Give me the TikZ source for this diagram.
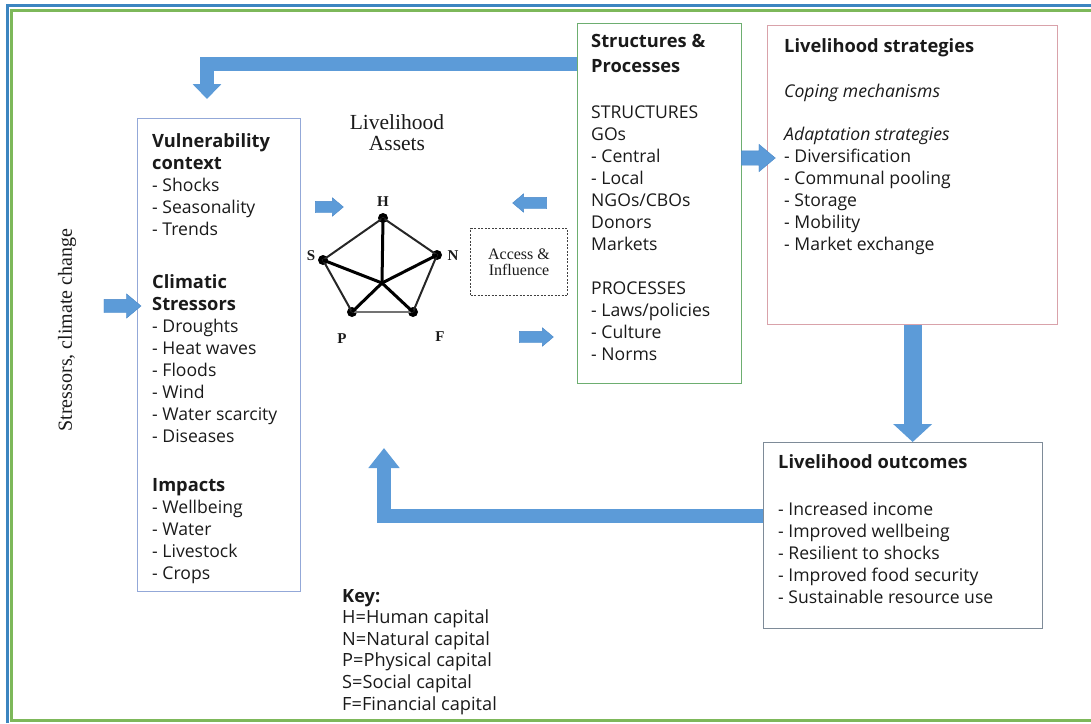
\documentclass[tikz,border=0pt]{standalone}
\usepackage{fontspec}
\setmainfont{Liberation Serif}
\setsansfont{Open Sans}
\usetikzlibrary{arrows.meta,shapes.arrows,calc}
\definecolor{frameblue}{HTML}{3C85C0}
\definecolor{framegreen}{HTML}{7DB85A}
\definecolor{vcblue}{HTML}{93A8D8}
\definecolor{spgreen}{HTML}{6DAE70}
\definecolor{lspink}{HTML}{D9A2AA}
\definecolor{logray}{HTML}{7E8B98}
\definecolor{arrowblue}{HTML}{5C9BD8}
\definecolor{arrowedge}{HTML}{4A88C8}
\definecolor{txtc}{HTML}{1A1A1A}
\newcommand\hd[1]{{\fontsize{18.3}{22}\selectfont\bfseries #1}}
\tikzset{
  box/.style={draw, line width=1.3pt, anchor=north west, inner sep=0},
  tx/.style={anchor=base west, align=left, inner sep=0, text=txtc,
    font=\sffamily\fontsize{17.6}{22}\selectfont},
  keytx/.style={tx, font=\sffamily\fontsize{18.2}{21.6}\selectfont},
  serif/.style={inner sep=0, text=txtc, font=\rmfamily\fontsize{21.5}{21}\selectfont},
  vlabel/.style={inner sep=0, text=txtc, font=\rmfamily\bfseries\fontsize{15}{18}\selectfont},
  dot/.style={circle, fill=black, inner sep=0, minimum size=10},
  pedge/.style={line width=2pt, black!85},
  spoke/.style={line width=3pt, black},
  sarrow/.style={single arrow, fill=arrowblue, draw=arrowedge, line width=0.4pt,
    inner sep=0, inner ysep=5.5, single arrow head extend=3.5, single arrow tip angle=80,
    minimum height=34},
  barrow/.style={sarrow, inner ysep=6.5, single arrow head extend=5.5, minimum height=37},
  bigarrow/.style={draw=arrowblue, line join=miter}
}
\begin{document}
\begin{tikzpicture}[x=1pt,y=-1pt]
\useasboundingbox (0,0) rectangle (1091,723);
% frame
\draw[frameblue, line width=3] (7.5,723) -- (7.5,5) -- (1091,5);
\draw[framegreen, line width=3] (1091,10) -- (11.5,10) -- (11.5,720.5) -- (1091,720.5);

% boxes
\node[box, draw=vcblue, minimum width=163, minimum height=473] (vc) at (137,118) {};
\node[box, draw=spgreen, minimum width=164, minimum height=360] (sp) at (577,23) {};
\node[box, draw=lspink, minimum width=290, minimum height=299] (ls) at (767,25) {};
\node[box, draw=logray, minimum width=279, minimum height=186] (lo) at (763,442) {};

% vulnerability text (anchored at baseline of last line)
\node[tx] (vc1) at (152,235) {\hd{Vulnerability}\\\hd{context}\\- Shocks\\- Seasonality\\- Trends};
\node[tx] (vc2) at (152,442) {\hd{Climatic}\\\hd{Stressors}\\- Droughts\\- Heat waves\\- Floods\\- Wind\\- Water scarcity\\- Diseases};
\node[tx] (vc3) at (152,579) {\hd{Impacts}\\- Wellbeing\\- Water\\- Livestock\\- Crops};

% structures text
\node[tx] (sp1) at (591,72) {\hd{Structures \&}\\[3pt]\hd{Processes}};
\node[tx] (sp2) at (591,250) {STRUCTURES\\GOs\\- Central\\- Local\\NGOs/CBOs\\Donors\\Markets};
\node[tx] (sp3) at (591,360) {PROCESSES\\- Laws/policies\\- Culture\\- Norms};

% strategies text
\node[tx] (ls1) at (784,52) {\hd{Livelihood strategies}};
\node[tx] (ls2) at (784,97) {\textit{Coping mechanisms}};
\node[tx] (ls3) at (784,250) {\textit{Adaptation strategies}\\- Diversification\\- Communal pooling\\- Storage\\- Mobility\\- Market exchange};

% outcomes text
\node[tx] (lo1) at (778,468) {\hd{Livelihood outcomes}};
\node[tx] (lo2) at (778,603) {- Increased income\\- Improved wellbeing\\- Resilient to shocks\\- Improved food security\\- Sustainable resource use};

% key
\node[keytx] (key) at (342,710) {\textbf{Key:}\\H=Human capital\\N=Natural capital\\P=Physical capital\\S=Social capital\\F=Financial capital};

% stressors label
\node[inner sep=0, rotate=90, text=txtc, font=\rmfamily\fontsize{20}{22}\selectfont] (str) at (67,330) {Stressors, climate change};

% livelihood assets
\node[serif, align=center] (la) at (397,133) {Livelihood\\Assets};
\coordinate (pc) at (382,283);
\node[dot] (H) at (383,218) {};
\node[dot] (S) at (323,260) {};
\node[dot] (N) at (437,255) {};
\node[dot] (P) at (352,312) {};
\node[dot] (F) at (413,312) {};
\draw[pedge] (P.center) -- (S.center) -- (H.center) -- (N.center) -- (F.center);
\draw[pedge, black!55] (P.center) -- (F.center);
\draw[spoke] (H.center) -- (pc);
\draw[spoke] (S.center) -- (pc);
\draw[spoke] (N.center) -- (pc);
\draw[spoke] (P.center) -- (pc);
\draw[spoke] (F.center) -- (pc);
\node[vlabel] (Hl) at (383,202) {H};
\node[vlabel] (Sl) at (311,256) {S};
\node[vlabel] (Nl) at (453,256) {N};
\node[vlabel] (Pl) at (342,339) {P};
\node[vlabel] (Fl) at (440,337) {F};

% access & influence
\node[box, dashed, draw=black!75, line width=1pt, dash pattern=on 2pt off 1.5pt,
  minimum width=97, minimum height=67, align=center,
  font=\rmfamily\fontsize{16}{16}\selectfont, text=txtc] (ai) at (470,228) {Access \&\\Influence};

% small arrows
\node[barrow] (a1) at (118.5,306) {};
\node[sarrow, minimum height=28] (a2) at (326,207) {};
\node[sarrow, shape border rotate=180] (a3) at (533,203) {};
\node[sarrow] (a4) at (533,337) {};
\node[barrow, inner ysep=7, single arrow head extend=6.5, minimum height=34] (a5) at (754,158) {};

% big arrows
\coordinate (topY) at (0,64);
\coordinate (toptip) at (207,99);
\draw[bigarrow, line width=14, -{Triangle[width=28,length=15]}] (sp.west |- topY) -| (toptip);
\draw[bigarrow, line width=18, -{Triangle[width=38,length=18]}] (ls.south) -- (ls.south |- lo.north);
\coordinate (botY) at (0,516);
\coordinate (bottip) at (384,448);
\draw[bigarrow, line width=14, -{Triangle[width=30,length=20]}] (lo.west |- botY) -| (bottip);
\end{tikzpicture}
\end{document}
